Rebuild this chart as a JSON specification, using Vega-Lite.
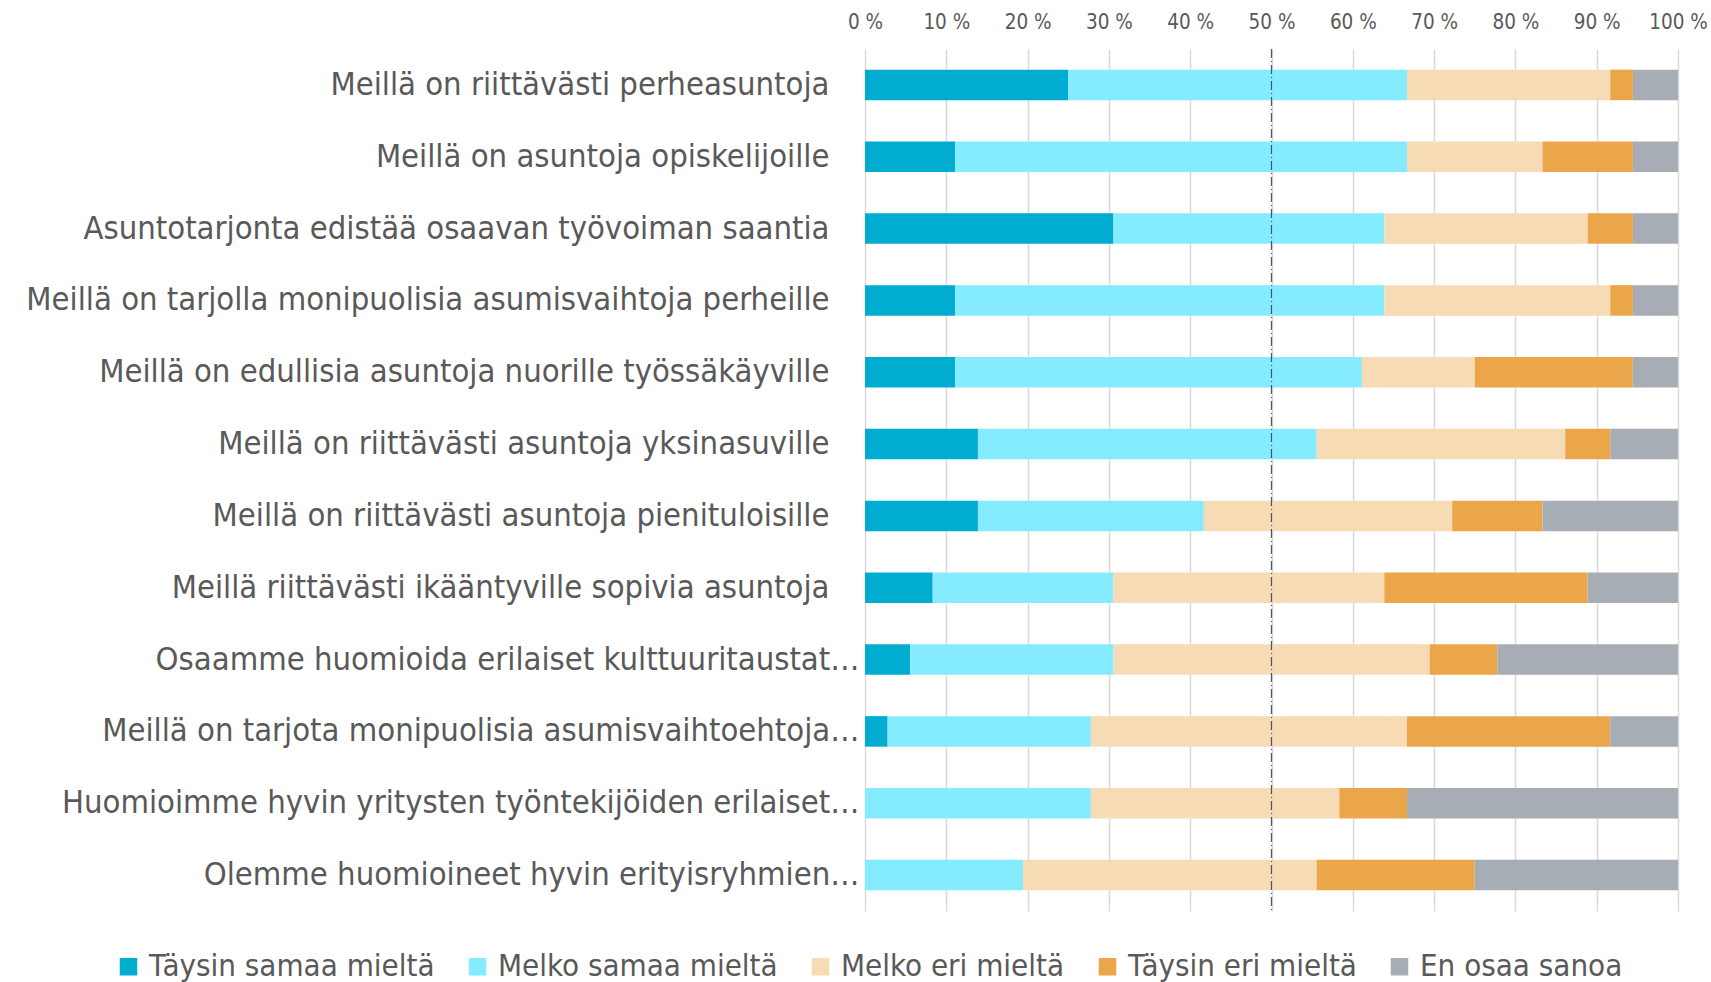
{
  "$schema": "https://vega.github.io/schema/vega-lite/v6.json",
  "width": 813,
  "height": 862,
  "autosize": {"type": "none"},
  "padding": {"left": 865, "top": 49, "right": 33, "bottom": 71},
  "background": "white",
  "config": {
    "view": {"stroke": null},
    "font": "DejaVu Sans Condensed, Roboto, sans-serif"
  },
  "data": {
    "values": [
      {"q": "Meillä on riittävästi perheasuntoja", "r": "Täysin samaa mieltä", "o": 1, "v": 25.0},
      {"q": "Meillä on riittävästi perheasuntoja", "r": "Melko samaa mieltä", "o": 2, "v": 41.67},
      {"q": "Meillä on riittävästi perheasuntoja", "r": "Melko eri mieltä", "o": 3, "v": 25.0},
      {"q": "Meillä on riittävästi perheasuntoja", "r": "Täysin eri mieltä", "o": 4, "v": 2.78},
      {"q": "Meillä on riittävästi perheasuntoja", "r": "En osaa sanoa", "o": 5, "v": 5.55},

      {"q": "Meillä on asuntoja opiskelijoille", "r": "Täysin samaa mieltä", "o": 1, "v": 11.11},
      {"q": "Meillä on asuntoja opiskelijoille", "r": "Melko samaa mieltä", "o": 2, "v": 55.56},
      {"q": "Meillä on asuntoja opiskelijoille", "r": "Melko eri mieltä", "o": 3, "v": 16.67},
      {"q": "Meillä on asuntoja opiskelijoille", "r": "Täysin eri mieltä", "o": 4, "v": 11.11},
      {"q": "Meillä on asuntoja opiskelijoille", "r": "En osaa sanoa", "o": 5, "v": 5.55},

      {"q": "Asuntotarjonta edistää osaavan työvoiman saantia", "r": "Täysin samaa mieltä", "o": 1, "v": 30.56},
      {"q": "Asuntotarjonta edistää osaavan työvoiman saantia", "r": "Melko samaa mieltä", "o": 2, "v": 33.33},
      {"q": "Asuntotarjonta edistää osaavan työvoiman saantia", "r": "Melko eri mieltä", "o": 3, "v": 25.0},
      {"q": "Asuntotarjonta edistää osaavan työvoiman saantia", "r": "Täysin eri mieltä", "o": 4, "v": 5.56},
      {"q": "Asuntotarjonta edistää osaavan työvoiman saantia", "r": "En osaa sanoa", "o": 5, "v": 5.55},

      {"q": "Meillä on tarjolla monipuolisia asumisvaihtoja perheille", "r": "Täysin samaa mieltä", "o": 1, "v": 11.11},
      {"q": "Meillä on tarjolla monipuolisia asumisvaihtoja perheille", "r": "Melko samaa mieltä", "o": 2, "v": 52.78},
      {"q": "Meillä on tarjolla monipuolisia asumisvaihtoja perheille", "r": "Melko eri mieltä", "o": 3, "v": 27.78},
      {"q": "Meillä on tarjolla monipuolisia asumisvaihtoja perheille", "r": "Täysin eri mieltä", "o": 4, "v": 2.78},
      {"q": "Meillä on tarjolla monipuolisia asumisvaihtoja perheille", "r": "En osaa sanoa", "o": 5, "v": 5.55},

      {"q": "Meillä on edullisia asuntoja nuorille työssäkäyville", "r": "Täysin samaa mieltä", "o": 1, "v": 11.11},
      {"q": "Meillä on edullisia asuntoja nuorille työssäkäyville", "r": "Melko samaa mieltä", "o": 2, "v": 50.0},
      {"q": "Meillä on edullisia asuntoja nuorille työssäkäyville", "r": "Melko eri mieltä", "o": 3, "v": 13.89},
      {"q": "Meillä on edullisia asuntoja nuorille työssäkäyville", "r": "Täysin eri mieltä", "o": 4, "v": 19.44},
      {"q": "Meillä on edullisia asuntoja nuorille työssäkäyville", "r": "En osaa sanoa", "o": 5, "v": 5.55},

      {"q": "Meillä on riittävästi asuntoja yksinasuville", "r": "Täysin samaa mieltä", "o": 1, "v": 13.89},
      {"q": "Meillä on riittävästi asuntoja yksinasuville", "r": "Melko samaa mieltä", "o": 2, "v": 41.67},
      {"q": "Meillä on riittävästi asuntoja yksinasuville", "r": "Melko eri mieltä", "o": 3, "v": 30.56},
      {"q": "Meillä on riittävästi asuntoja yksinasuville", "r": "Täysin eri mieltä", "o": 4, "v": 5.56},
      {"q": "Meillä on riittävästi asuntoja yksinasuville", "r": "En osaa sanoa", "o": 5, "v": 8.32},

      {"q": "Meillä on riittävästi asuntoja pienituloisille", "r": "Täysin samaa mieltä", "o": 1, "v": 13.89},
      {"q": "Meillä on riittävästi asuntoja pienituloisille", "r": "Melko samaa mieltä", "o": 2, "v": 27.78},
      {"q": "Meillä on riittävästi asuntoja pienituloisille", "r": "Melko eri mieltä", "o": 3, "v": 30.56},
      {"q": "Meillä on riittävästi asuntoja pienituloisille", "r": "Täysin eri mieltä", "o": 4, "v": 11.11},
      {"q": "Meillä on riittävästi asuntoja pienituloisille", "r": "En osaa sanoa", "o": 5, "v": 16.66},

      {"q": "Meillä riittävästi ikääntyville sopivia asuntoja", "r": "Täysin samaa mieltä", "o": 1, "v": 8.33},
      {"q": "Meillä riittävästi ikääntyville sopivia asuntoja", "r": "Melko samaa mieltä", "o": 2, "v": 22.22},
      {"q": "Meillä riittävästi ikääntyville sopivia asuntoja", "r": "Melko eri mieltä", "o": 3, "v": 33.33},
      {"q": "Meillä riittävästi ikääntyville sopivia asuntoja", "r": "Täysin eri mieltä", "o": 4, "v": 25.0},
      {"q": "Meillä riittävästi ikääntyville sopivia asuntoja", "r": "En osaa sanoa", "o": 5, "v": 11.12},

      {"q": "Osaamme huomioida erilaiset kulttuuritaustat…", "r": "Täysin samaa mieltä", "o": 1, "v": 5.56},
      {"q": "Osaamme huomioida erilaiset kulttuuritaustat…", "r": "Melko samaa mieltä", "o": 2, "v": 25.0},
      {"q": "Osaamme huomioida erilaiset kulttuuritaustat…", "r": "Melko eri mieltä", "o": 3, "v": 38.89},
      {"q": "Osaamme huomioida erilaiset kulttuuritaustat…", "r": "Täysin eri mieltä", "o": 4, "v": 8.33},
      {"q": "Osaamme huomioida erilaiset kulttuuritaustat…", "r": "En osaa sanoa", "o": 5, "v": 22.22},

      {"q": "Meillä on tarjota monipuolisia asumisvaihtoehtoja…", "r": "Täysin samaa mieltä", "o": 1, "v": 2.78},
      {"q": "Meillä on tarjota monipuolisia asumisvaihtoehtoja…", "r": "Melko samaa mieltä", "o": 2, "v": 25.0},
      {"q": "Meillä on tarjota monipuolisia asumisvaihtoehtoja…", "r": "Melko eri mieltä", "o": 3, "v": 38.89},
      {"q": "Meillä on tarjota monipuolisia asumisvaihtoehtoja…", "r": "Täysin eri mieltä", "o": 4, "v": 25.0},
      {"q": "Meillä on tarjota monipuolisia asumisvaihtoehtoja…", "r": "En osaa sanoa", "o": 5, "v": 8.33},

      {"q": "Huomioimme hyvin yritysten työntekijöiden erilaiset…", "r": "Täysin samaa mieltä", "o": 1, "v": 0},
      {"q": "Huomioimme hyvin yritysten työntekijöiden erilaiset…", "r": "Melko samaa mieltä", "o": 2, "v": 27.78},
      {"q": "Huomioimme hyvin yritysten työntekijöiden erilaiset…", "r": "Melko eri mieltä", "o": 3, "v": 30.56},
      {"q": "Huomioimme hyvin yritysten työntekijöiden erilaiset…", "r": "Täysin eri mieltä", "o": 4, "v": 8.33},
      {"q": "Huomioimme hyvin yritysten työntekijöiden erilaiset…", "r": "En osaa sanoa", "o": 5, "v": 33.33},

      {"q": "Olemme huomioineet hyvin erityisryhmien…", "r": "Täysin samaa mieltä", "o": 1, "v": 0},
      {"q": "Olemme huomioineet hyvin erityisryhmien…", "r": "Melko samaa mieltä", "o": 2, "v": 19.44},
      {"q": "Olemme huomioineet hyvin erityisryhmien…", "r": "Melko eri mieltä", "o": 3, "v": 36.11},
      {"q": "Olemme huomioineet hyvin erityisryhmien…", "r": "Täysin eri mieltä", "o": 4, "v": 19.44},
      {"q": "Olemme huomioineet hyvin erityisryhmien…", "r": "En osaa sanoa", "o": 5, "v": 25.01}
    ]
  },
  "layer": [
    {
      "mark": {"type": "bar"},
      "encoding": {
        "y": {
          "field": "q",
          "type": "nominal",
          "sort": null,
          "scale": {"paddingInner": 0.575, "paddingOuter": 0.2875},
          "axis": {
            "title": null,
            "domain": false,
            "ticks": false,
            "labelFont": "DejaVu Sans Condensed, Roboto, sans-serif",
            "labelFontSize": 32.5,
            "labelColor": "#595959",
            "labelLimit": 1000,
            "labelPadding": {"condition": {"test": "indexof(datum.label, '…') >= 0", "value": 6}, "value": 36}
          }
        },
        "x": {
          "field": "v",
          "type": "quantitative",
          "stack": "zero",
          "scale": {"domain": [0, 100], "nice": false, "clamp": true},
          "axis": {
            "orient": "top",
            "title": null,
            "values": [0, 10, 20, 30, 40, 50, 60, 70, 80, 90, 100],
            "labelExpr": "datum.value + ' %'",
            "labelFlush": false,
            "domain": false,
            "ticks": false,
            "labelPadding": 17,
            "labelFont": "DejaVu Sans Condensed, Roboto, sans-serif",
            "labelFontSize": 20.5,
            "labelColor": "#595959",
            "grid": true,
            "gridColor": "#d9d9d9",
            "gridWidth": 1.5
          }
        },
        "color": {
          "field": "r",
          "type": "nominal",
          "scale": {
            "domain": ["Täysin samaa mieltä", "Melko samaa mieltä", "Melko eri mieltä", "Täysin eri mieltä", "En osaa sanoa"],
            "range": ["#00acd0", "#85ebff", "#f6dbb5", "#eba649", "#a6adb4"]
          },
          "legend": {
            "title": null,
            "orient": "none",
            "direction": "horizontal",
            "legendX": -752,
            "legendY": 902,
            "symbolType": "square",
            "symbolSize": 306,
            "symbolStrokeWidth": 0,
            "symbolOpacity": 1,
            "labelFont": "DejaVu Sans Condensed, Roboto, sans-serif",
            "labelFontSize": 31,
            "labelColor": "#595959",
            "labelLimit": 400,
            "labelOffset": 5,
            "columnPadding": 27
          }
        },
        "order": {"field": "o", "type": "quantitative"}
      }
    },
    {
      "data": {"values": [{"m": 50}]},
      "mark": {"type": "rule", "color": "#44546a", "strokeWidth": 1.2, "strokeDash": [9, 3, 1, 3]},
      "encoding": {"x": {"field": "m", "type": "quantitative"}}
    }
  ]
}
